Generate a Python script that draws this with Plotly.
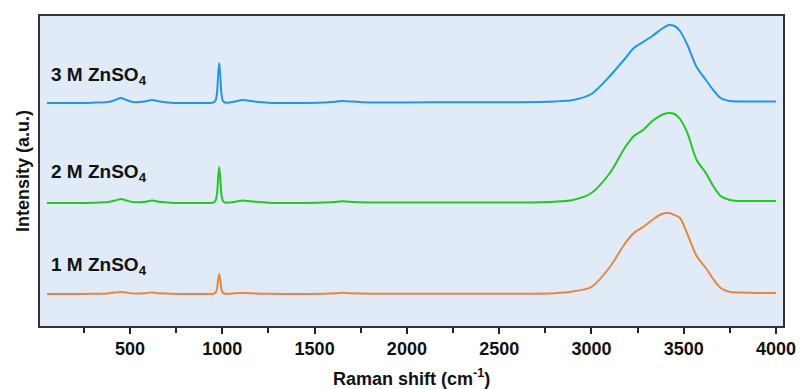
import plotly.graph_objects as go

# Wavenumbers (cm^-1)
wavenumber = [50, 200, 300, 380, 420, 450, 480, 520, 580, 620, 660, 720, 850, 950,
              963, 971, 977, 983, 989, 995, 1002, 1014, 1040, 1070, 1110, 1150, 1250,
              1400, 1550, 1620, 1650, 1690, 1800, 2000, 2300, 2600, 2800, 2900, 3000,
              3100, 3180, 3230, 3280, 3330, 3380, 3420, 3450, 3480, 3520, 3570, 3620,
              3660, 3700, 3750, 3800, 3900, 4000]

# Intensities above each baseline (a.u.)
int_3M = [0, 0, 0.3, 1, 3, 5, 3, 0.8, 1.5, 3, 1.5, 0.3, 0, 0.5,
          2.5, 10, 27, 40, 27, 10, 2.5, 0.5, 0.5, 1.5, 3, 2, 0.3,
          0, 0.5, 1.5, 2, 1.5, 0.5, 0.5, 0.8, 0.8, 1.5, 3, 9,
          27, 44, 55, 61, 67, 74, 78, 77, 72, 58, 36, 23,
          13, 5, 2, 1.5, 1.5, 1.5]
int_2M = [0, 0, 0.3, 1, 2.5, 4, 2.5, 0.8, 1.2, 2.5, 1.2, 0.3, 0, 0.5,
          2.5, 9, 24, 36, 24, 9, 2.5, 0.5, 0.5, 1.2, 2.5, 1.8, 0.3,
          0, 0.5, 1.2, 1.8, 1.2, 0.5, 0.5, 0.5, 0.5, 1.3, 3, 10,
          30, 55, 67, 73, 82, 88, 90, 89, 84, 70, 43, 30,
          17, 7, 3, 2, 2, 2]
int_1M = [0, 0, 0.2, 0.6, 1.5, 2, 1.5, 0.5, 0.8, 1.5, 0.8, 0.2, 0, 0.3,
          1.2, 5, 14, 20, 14, 5, 1.2, 0.3, 0.3, 0.7, 1, 0.8, 0.2,
          0, 0.3, 0.8, 1.2, 0.8, 0.3, 0.3, 0.3, 0.3, 0.8, 2.5, 7,
          27, 50, 61, 67, 74, 80, 81, 79, 76, 60, 38, 26,
          15, 6, 2, 1.5, 1, 1]

series_names = ["3 M ZnSO<sub>4</sub>", "2 M ZnSO<sub>4</sub>", "1 M ZnSO<sub>4</sub>"]
series_values = [int_3M, int_2M, int_1M]
series_offsets = [223, 123, 32]
colors = ["#1e96ec", "#22c822", "#e8863c"]
label_y = [250, 153, 60]

x_ticks = [500, 1000, 1500, 2000, 2500, 3000, 3500, 4000]
x_tick_labels = ["<b>%d</b>" % t for t in x_ticks]

fig = go.Figure()
for name, vals, off, col in zip(series_names, series_values, series_offsets, colors):
    fig.add_trace(go.Scatter(
        x=wavenumber, y=[v + off for v in vals], mode="lines",
        line=dict(color=col, width=2, shape="spline", smoothing=0.8),
        name=name, showlegend=False, hoverinfo="skip"))

for name, ly in zip(series_names, label_y):
    fig.add_annotation(x=62, y=ly, text="<b>%s</b>" % name, showarrow=False,
                       xanchor="left", yanchor="middle",
                       font=dict(size=19, color="#111"))

# x-axis title placed below the tick labels
fig.add_annotation(x=0.5, y=-51 / 310, xref="paper", yref="paper",
                   text="<b>Raman shift (cm<sup>-1</sup>)</b>", showarrow=False,
                   xanchor="center", yanchor="middle",
                   font=dict(size=18, color="#111"))

font_family = "Arial, Liberation Sans, sans-serif"
fig.update_layout(
    width=800, height=389,
    margin=dict(l=40, r=17, t=16, b=63, autoexpand=False),
    paper_bgcolor="white", plot_bgcolor="#e0ebf7",
    font=dict(family=font_family, size=17, color="#111"),
    xaxis=dict(range=[12, 4038], tickvals=x_ticks, ticktext=x_tick_labels,
               ticks="outside", ticklen=6, automargin=False,
               tickwidth=1.5, tickcolor="#222", showgrid=False, zeroline=False,
               showline=True, linecolor="#333", linewidth=1.5, mirror=True,
               minor=dict(dtick=250, tick0=0, ticks="outside", ticklen=5,
                          tickwidth=1.5, tickcolor="#222"),
               tickfont=dict(size=18)),
    yaxis=dict(range=[0, 310], showticklabels=False, ticks="", showgrid=False,
               zeroline=False, showline=True, linecolor="#333", linewidth=1.5,
               mirror=True, automargin=False,
               title=dict(text="<b>Intensity (a.u.)</b>", standoff=4,
                          font=dict(size=18))),
)

fig.write_html("out.html")
